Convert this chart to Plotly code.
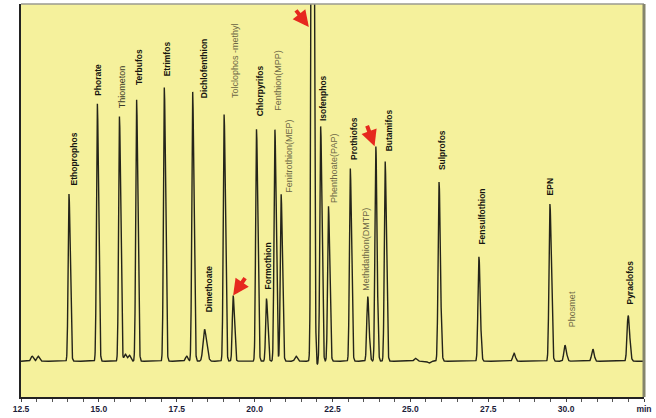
import numpy as np
import plotly.graph_objects as go

# ---- data (retention time in min, peak height in arbitrary units) ----
peak_names = [
    "Ethoprophos", "Phorate", "Thiometon", "Terbufos", "Etrimfos", "Dichlofenthion",
    "Dimethoate", "Tolclophos -methyl", "", "Chlorpyrifos", "Formothion", "Fenthion(MPP)",
    "Fenitrothion(MEP)", "", "Isofenphos", "Phenthoate(PAP)", "Prothiofos",
    "Methidathion(DMTP)", "", "Butamifos", "Sulprofos", "Fensulfothion", "EPN",
    "Phosmet", "Pyraclofos",
]
peak_times = [
    14.04, 14.95, 15.66, 16.21, 17.10, 18.01,
    18.39, 19.02, 19.31, 20.06, 20.38, 20.65,
    20.85, 21.85, 22.12, 22.37, 23.07,
    23.63, 23.89, 24.19, 25.92, 27.20, 29.48,
    29.96, 31.99,
]
peak_heights = [
    168, 259, 246, 263, 275, 271,
    32, 248, 66, 233, 63, 233,
    168, 1300, 236, 156, 194,
    65, 216, 201, 180, 105, 158,
    16, 46,
]
peak_sigmas = [
    0.032, 0.032, 0.032, 0.032, 0.032, 0.032,
    0.055, 0.032, 0.032, 0.032, 0.032, 0.032,
    0.032, 0.035, 0.032, 0.032, 0.032,
    0.035, 0.032, 0.032, 0.035, 0.035, 0.035,
    0.04, 0.04,
]
# small baseline features
minor_times = [12.86, 13.05, 15.85, 15.98, 17.82, 21.33, 21.98, 25.16, 25.60, 28.33, 30.86]
minor_heights = [5, 5, 7, 6, 5, 5, -6, 3, -2, 8, 12]

bold_labels = {"Ethoprophos", "Phorate", "Terbufos", "Etrimfos", "Dichlofenthion", "Dimethoate",
               "Chlorpyrifos", "Formothion", "Isofenphos", "Prothiofos", "Butamifos",
               "Sulprofos", "Fensulfothion", "EPN", "Pyraclofos"}
# label offsets in pixels (style)
label_shift = {
    "Ethoprophos": (5, 8), "Phorate": (1, 7), "Thiometon": (2, 7), "Terbufos": (2, 13),
    "Etrimfos": (3, 10), "Dichlofenthion": (11, -8), "Dimethoate": (4, 16),
    "Tolclophos -methyl": (11, 15), "Chlorpyrifos": (3, 12), "Formothion": (2, 8),
    "Fenthion(MPP)": (3, 18), "Fenitrothion(MEP)": (7, 0), "Isofenphos": (3, 4),
    "Phenthoate(PAP)": (6, 2), "Prothiofos": (3, 7), "Methidathion(DMTP)": (-2, 5),
    "Butamifos": (4, 9), "Sulprofos": (3, 11), "Fensulfothion": (3, 11), "EPN": (1, 8),
    "Phosmet": (7, 17), "Pyraclofos": (2, 10),
}

tick_vals = [12.5, 15.0, 17.5, 20.0, 22.5, 25.0, 27.5, 30.0, 32.5]
tick_text = ["12.5", "15.0", "17.5", "20.0", "22.5", "25.0", "27.5", "30.0", "min"]

# ---- build trace ----
t = np.arange(12.5, 32.5001, 0.004)
signal = np.zeros_like(t)
for tc, h, s in zip(peak_times, peak_heights, peak_sigmas):
    sl = np.where(t < tc, s * 0.85, s * 1.25)
    signal += h * np.exp(-0.5 * ((t - tc) / sl) ** 2)
for tc, h in zip(minor_times, minor_heights):
    signal += h * np.exp(-0.5 * ((t - tc) / 0.04) ** 2)

fig = go.Figure()
fig.add_trace(go.Scatter(x=t, y=signal, mode="lines",
                         line=dict(color="#24241a", width=1.4), hoverinfo="skip"))

annotations = []
for name, tc, h in zip(peak_names, peak_times, peak_heights):
    if not name:
        continue
    dx, dy = label_shift[name]
    bold = name in bold_labels
    color = "#151510" if bold else ("#3a3a2a" if name == "Thiometon" else "#6d6745")
    annotations.append(dict(
        x=tc, y=h, xref="x", yref="y", text=name, textangle=-90, showarrow=False,
        xanchor="center", yanchor="bottom", xshift=dx, yshift=dy, borderpad=0,
        font=dict(family="Liberation Sans, Arial", size=8.5 if bold else 9,
                  color=color, weight="bold" if bold else "normal"),
    ))

# red arrows marking peaks
arrow_targets = [(21.74, 336, -14, -18), (23.85, 216, -8, -22), (19.31, 66, 13, -19)]
for ax_t, ay_h, ax_px, ay_px in arrow_targets:
    annotations.append(dict(
        x=ax_t, y=ay_h, xref="x", yref="y", ax=ax_px, ay=ay_px, text="",
        showarrow=True, arrowhead=2, arrowsize=0.8, arrowwidth=4, arrowcolor="#e6281e",
    ))

fig.update_layout(
    width=656, height=418,
    margin=dict(l=21, r=8, t=4, b=19),
    paper_bgcolor="white", plot_bgcolor="#f5f19c",
    showlegend=False,
    annotations=annotations,
    xaxis=dict(range=[12.5, 32.5], tickvals=tick_vals, ticktext=tick_text,
               ticks="outside", ticklen=3, tickcolor="#444", tickwidth=1,
               minor=dict(dtick=0.5, tick0=12.5, ticks="outside", ticklen=3, tickcolor="#555"),
               showgrid=False, zeroline=False, showline=True, linecolor="#222", linewidth=1.5,
               tickfont=dict(family="Liberation Sans, Arial", size=8.5, color="#1c1c3a",
                             weight="bold")),
    yaxis=dict(range=[-36, 359], showticklabels=False, ticks="", showgrid=False,
               zeroline=False, showline=True, linecolor="#222", linewidth=1.5),
    shapes=[
        dict(type="line", xref="paper", yref="paper", x0=0, x1=1, y0=1, y1=1,
             line=dict(color="#9a9a90", width=1.5)),
        dict(type="line", xref="paper", yref="paper", x0=1, x1=1, y0=0, y1=1,
             line=dict(color="#85856d", width=3)),
    ],
)

fig.write_html("out.html", config={"displayModeBar": False},
               post_script="document.body.style.margin='0';document.body.style.overflow='hidden';")
